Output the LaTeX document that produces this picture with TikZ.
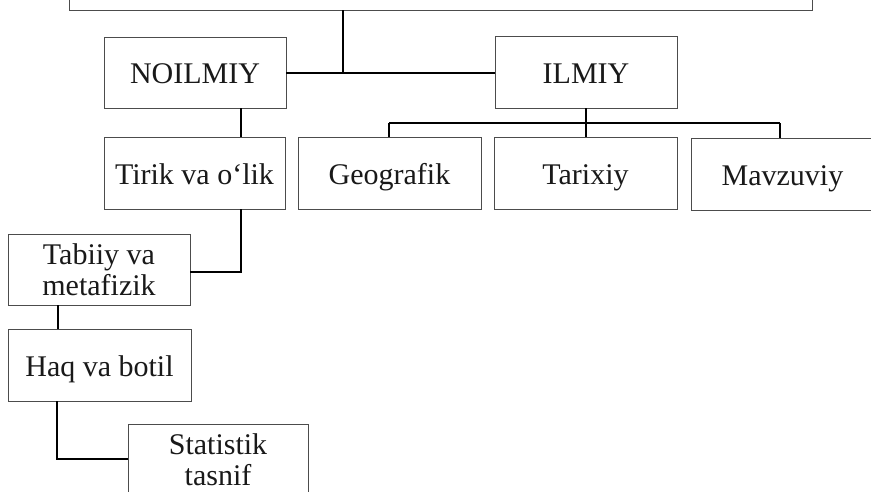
\documentclass[tikz,border=0pt]{standalone}
\usepackage{fontspec}
\setmainfont{Liberation Serif}
\begin{document}
\begin{tikzpicture}[x=1pt,y=-1pt,
  box/.style={draw=black!70, line width=0.9pt, rectangle, minimum width=#1,
    minimum height=72pt, inner sep=0pt, align=center,
    font=\fontsize{30}{31}\selectfont, text=black!90},
  box/.default=182pt,
  oneline/.style={text height=22pt, text depth=0pt},
  conn/.style={line width=1.2pt, black}]
\clip (0,0) rectangle (871,491);
\fill[white] (0,0) rectangle (871,491);
% boxes
\node[box=743pt, minimum height=60pt] (top) at (440.5,-20) {};
\node[box, oneline, minimum height=71pt] (noilmiy) at (195,72.5) {NOILMIY};
\node[box, oneline] (ilmiy) at (586,72) {ILMIY};
\node[box=181pt, oneline] (tirik) at (194.5,173) {Tirik va o‘lik};
\node[box=183pt, oneline] (geografik) at (389.5,173.5) {Geografik};
\node[box=183pt, oneline] (tarixiy) at (585.5,173.5) {Tarixiy};
\node[box=183pt, oneline] (mavzuviy) at (782.5,174) {Mavzuviy};
\node[box, minimum height=71pt] (tabiiy) at (99,269.5) {Tabiiy va\\metafizik};
\node[box=183pt, oneline] (haq) at (99.5,365) {Haq va botil};
\node[box=180pt] (statistik) at (218,460) {Statistik\\tasnif};
% junction coordinates
\coordinate (j1) at (343,73);
\coordinate (j2) at (241,0);
\coordinate (j3) at (586,123);
\coordinate (jg) at (389,123);
\coordinate (jm) at (780,123);
\coordinate (j4) at (241,272);
\coordinate (j5) at (58,0);
\coordinate (j6) at (57,459);
% connectors
\draw[conn] (top.south -| j1) -- (j1);
\draw[conn] (noilmiy.east |- j1) -- (ilmiy.west |- j1);
\draw[conn] (noilmiy.south -| j2) -- (tirik.north -| j2);
\draw[conn] (ilmiy.south -| j3) -- (j3);
\draw[conn] (jg) -- (jm);
\draw[conn] (jg) -- (geografik.north -| jg);
\draw[conn] (j3) -- (tarixiy.north -| j3);
\draw[conn] (jm) -- (mavzuviy.north -| jm);
\draw[conn] (tirik.south -| j4) -- (j4) -- (tabiiy.east |- j4);
\draw[conn] (tabiiy.south -| j5) -- (haq.north -| j5);
\draw[conn] (haq.south -| j6) -- (j6) -- (statistik.west |- j6);
\end{tikzpicture}
\end{document}
